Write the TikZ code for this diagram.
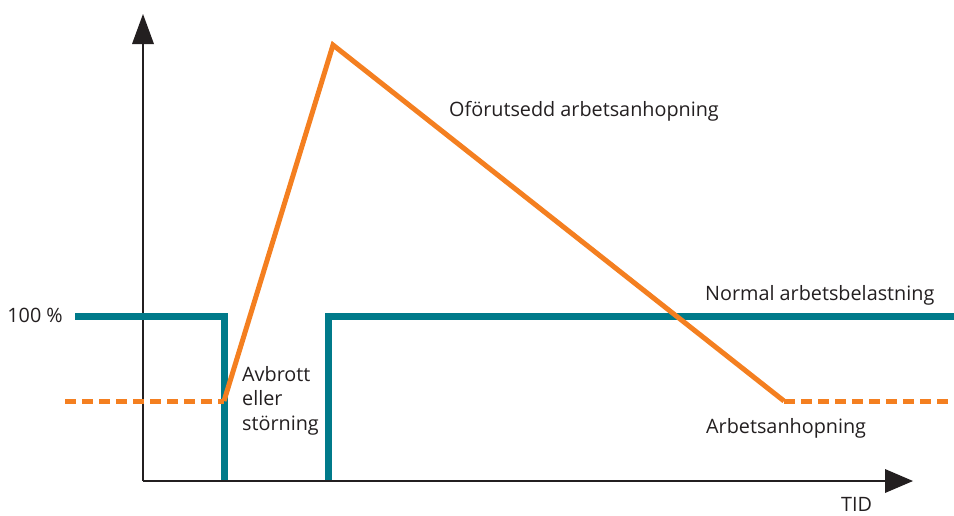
\documentclass[tikz,border=0pt]{standalone}
\usepackage{fontspec}
\setmainfont{Open Sans}
\definecolor{teal}{HTML}{007A8A}
\definecolor{orng}{HTML}{F47F20}
\definecolor{ink}{HTML}{231F20}
\begin{document}
\begin{tikzpicture}[x=1pt,y=-1pt,
  axis/.style={draw=ink,line width=2pt},
  tip/.style={fill=ink,draw=none},
  tealline/.style={draw=teal,line width=7pt},
  orline/.style={draw=orng,line width=5pt,line join=miter},
  ordash/.style={draw=orng,line width=5pt,dash pattern=on 11pt off 6pt},
  lbl/.style={font=\fontsize{19.8}{24.5}\selectfont,text=ink,inner sep=0pt}]
\useasboundingbox (0,0) rectangle (954,515);
% axes
\coordinate (o) at (143,481);
\coordinate (ytop) at (143,44);
\coordinate (xend) at (885,481);
\draw[axis] (o) -- (ytop);
\draw[axis] (o) -- (xend);
\fill[tip] (143,14) -- (154,44) -- (132,44) -- cycle;
\fill[tip] (913,481) -- (885,469) -- (885,493) -- cycle;
% teal
\coordinate (t0) at (75,316);
\coordinate (t1) at (224,316);
\coordinate (t2) at (224,480);
\coordinate (t3) at (328,480);
\coordinate (t4) at (328,316);
\coordinate (t5) at (954,316);
\draw[tealline] (t0) -- (t1) -- (t2);
\draw[tealline] (t3) -- (t4) -- (t5);
% orange
\coordinate (d0) at (65,401);
\coordinate (d1) at (224,401);
\coordinate (pk) at (333,45);
\coordinate (d2) at (784,401);
\coordinate (d3) at (954,401);
\draw[ordash] (d0) -- (d1);
\draw[orline] (d1) -- (pk) -- (d2);
\draw[ordash] (d2) -- (d3);
% labels
\node[lbl,anchor=base east] (l100) at (63,322) {100 \%};
\node[lbl,anchor=base west,align=left] (lavb) at (242,430) {Avbrott\\eller\\störning};
\node[lbl,anchor=base west] (lofo) at (449,116) {Oförutsedd arbetsanhopning};
\node[lbl,anchor=base west] (lnor) at (705,300) {Normal arbetsbelastning};
\node[lbl,anchor=base west] (larb) at (706,433) {Arbetsanhopning};
\node[lbl,anchor=base west] (ltid) at (841,511) {TID};
\end{tikzpicture}
\end{document}
